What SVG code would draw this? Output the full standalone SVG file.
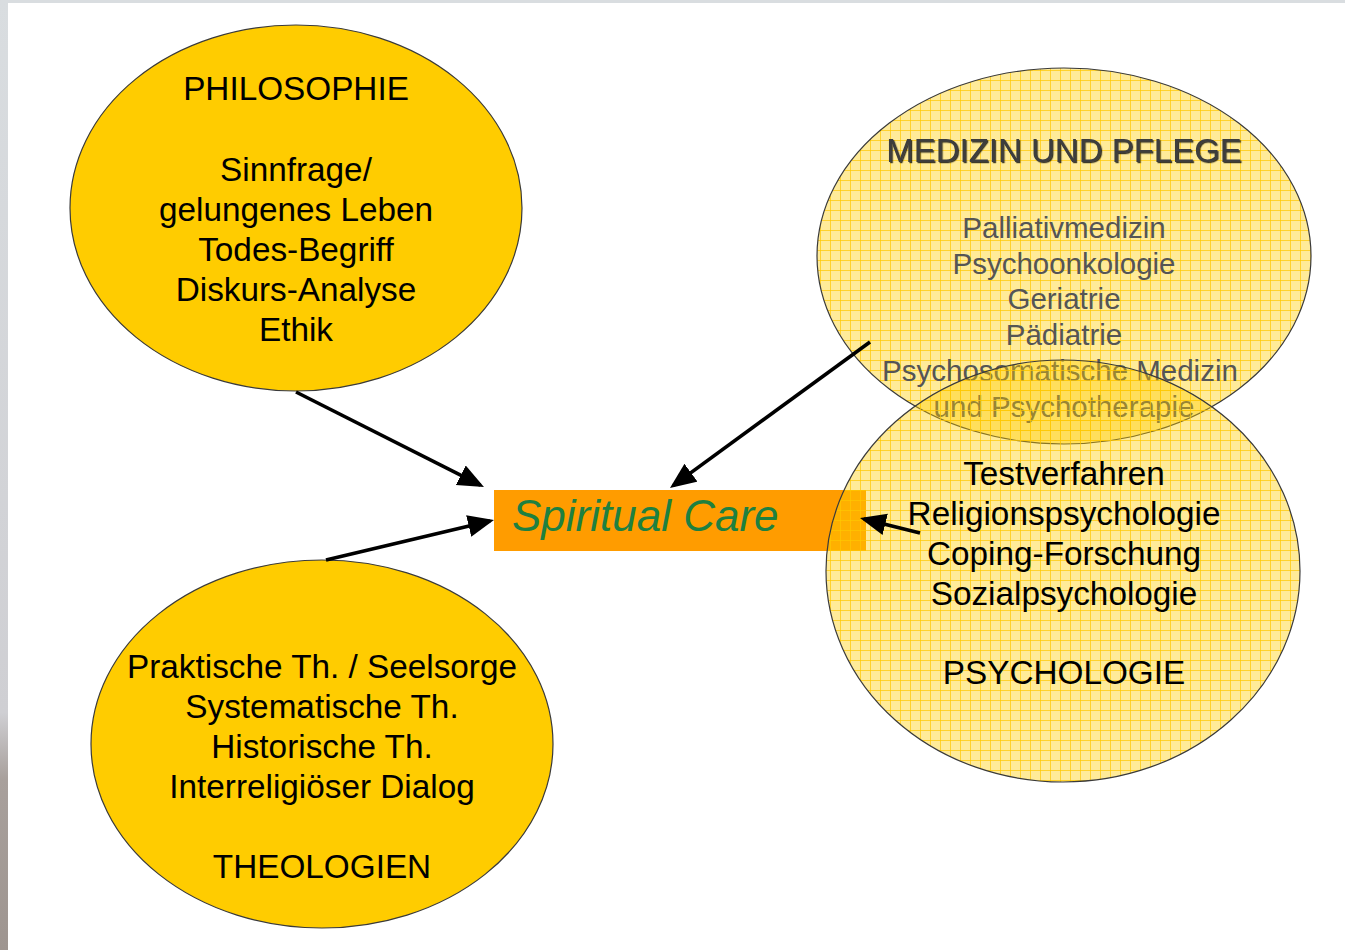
<svg xmlns="http://www.w3.org/2000/svg" width="1345" height="950" viewBox="0 0 1345 950">
<defs>
<style>
.solid{fill:#FFCC00;stroke:#3a3a3a;stroke-width:1.2}
.grid{fill:url(#grid);stroke:#3a3a3a;stroke-width:1.2}
.t{font-family:"Liberation Sans",Arial,sans-serif;font-size:33.3px;fill:#000;text-anchor:middle}
.m{font-family:"Liberation Sans",Arial,sans-serif;font-size:29.5px;fill:#555;text-anchor:middle}
.mt{font-family:"Liberation Sans",Arial,sans-serif;font-size:33px;fill:#3c3c3c;text-anchor:middle}
.arr{stroke:#000;stroke-width:3.6;fill:none;marker-end:url(#ah)}
</style>
<pattern id="grid" patternUnits="userSpaceOnUse" width="10" height="10">
<rect width="10" height="10" fill="#FFCC00" fill-opacity="0.40"/>
<path d="M0,0.5 H10 M0.5,0 V10" stroke="#FFC800" stroke-opacity="0.7" stroke-width="1"/>
</pattern>
<marker id="ah" markerUnits="userSpaceOnUse" markerWidth="28" markerHeight="24" refX="22" refY="11" orient="auto">
<path d="M0,0 L26,11 L0,22 z" fill="#000"/>
</marker>
<filter id="sh" x="-5%" y="-20%" width="110%" height="140%">
<feDropShadow dx="1.2" dy="1.2" stdDeviation="0.6" flood-color="#111" flood-opacity="0.8"/>
</filter>
<linearGradient id="edge" x1="0" y1="0" x2="0" y2="1">
<stop offset="0" stop-color="#D9DDE0"/>
<stop offset="0.75" stop-color="#CFCFD3"/>
<stop offset="0.82" stop-color="#A8A09C"/>
<stop offset="1" stop-color="#9E9590"/>
</linearGradient>
</defs>
<rect width="1345" height="950" fill="#fff"/>
<rect x="0" y="0" width="1345" height="3" fill="#D9DDE0"/>
<rect x="0" y="0" width="8" height="950" fill="url(#edge)"/>

<g id="spiritual-care">
<rect x="494" y="490" width="372" height="61" fill="#FF9C00"/>
<text x="512" y="531" font-family="'Liberation Sans',Arial,sans-serif" font-size="44" font-style="italic" fill="#1E8040">Spiritual Care</text>
</g>

<g id="philosophie">
<ellipse class="solid" cx="296" cy="208" rx="226" ry="183"/>
<text class="t" x="296" y="100">PHILOSOPHIE</text>
<text class="t" x="296" y="181">Sinnfrage/</text>
<text class="t" x="296" y="221">gelungenes Leben</text>
<text class="t" x="296" y="261">Todes-Begriff</text>
<text class="t" x="296" y="301">Diskurs-Analyse</text>
<text class="t" x="296" y="341">Ethik</text>
</g>

<g id="theologien">
<ellipse class="solid" cx="322" cy="744" rx="231" ry="184"/>
<text class="t" x="322" y="678">Praktische Th. / Seelsorge</text>
<text class="t" x="322" y="718">Systematische Th.</text>
<text class="t" x="322" y="758">Historische Th.</text>
<text class="t" x="322" y="798">Interreligiöser Dialog</text>
<text class="t" x="322" y="878">THEOLOGIEN</text>
</g>

<g id="medizin">
<ellipse class="grid" cx="1064" cy="256" rx="247" ry="188"/>
<text class="mt" x="1064" y="162" filter="url(#sh)">MEDIZIN UND PFLEGE</text>
<text class="m" x="1064" y="238">Palliativmedizin</text>
<text class="m" x="1064" y="274">Psychoonkologie</text>
<text class="m" x="1064" y="309">Geriatrie</text>
<text class="m" x="1064" y="345">Pädiatrie</text>
<text class="m" x="1060" y="381">Psychosomatische Medizin</text>
<text class="m" x="1064" y="417">und Psychotherapie</text>
</g>

<g id="psychologie">
<ellipse class="grid" cx="1063" cy="571" rx="237" ry="211"/>
<text class="t" x="1064" y="485">Testverfahren</text>
<text class="t" x="1064" y="525">Religionspsychologie</text>
<text class="t" x="1064" y="565">Coping-Forschung</text>
<text class="t" x="1064" y="605">Sozialpsychologie</text>
<text class="t" x="1064" y="684">PSYCHOLOGIE</text>
</g>

<g id="connectors">
<line class="arr" x1="296" y1="392" x2="480.4" y2="485.2"/>
<line class="arr" x1="870" y1="342" x2="673.2" y2="485.6"/>
<line class="arr" x1="326" y1="560" x2="490.1" y2="520.9"/>
<line class="arr" x1="920" y1="533" x2="863.9" y2="519"/>
</g>
</svg>
